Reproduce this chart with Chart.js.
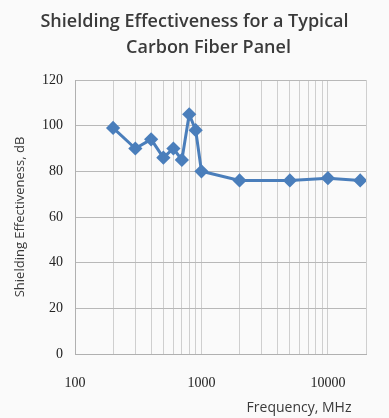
<!DOCTYPE html>
<html>
<head>
<meta charset="utf-8">
<script src="https://cdn.jsdelivr.net/npm/chart.js@4.4.1/dist/chart.umd.min.js"></script>
<style>
  html, body { margin: 0; padding: 0; background: #fafafa; }
  #wrap { width: 389px; height: 418px; }
</style>
</head>
<body>
<div id="wrap"><canvas id="myChart"></canvas></div>
<script>
const frequencies = [200, 300, 400, 500, 600, 700, 800, 900, 1000, 2000, 5000, 10000, 18000];
const effectiveness = [99, 90, 94, 86, 90, 85, 105, 98, 80, 76, 76, 77, 76];
const freqGrid = [100, 200, 300, 400, 500, 600, 700, 800, 900,
                  1000, 2000, 3000, 4000, 5000, 6000, 7000, 8000, 9000,
                  10000, 20000];
const freqLabels = [100, 1000, 10000];
const dbTicks = [0, 20, 40, 60, 80, 100, 120];
const titleLines = ['Shielding Effectiveness for a Typical', 'Carbon Fiber Panel'];

const blue = '#4a7ebb';
const tickFont = {family: 'Liberation Serif', size: 14};

// the picture's title is centred on the whole image, second line a bit to the right
const pictureTitle = {
    id: 'pictureTitle',
    afterDraw(chart) {
        const ctx = chart.ctx;
        ctx.save();
        ctx.font = '600 18px "Open Sans"';
        ctx.fillStyle = '#3a3a3a';
        ctx.textAlign = 'center';
        ctx.textBaseline = 'alphabetic';
        ctx.fillText(titleLines[0], chart.width / 2, 27);
        ctx.fillText(titleLines[1], chart.width / 2 + 14, 53);
        ctx.restore();
    }
};

const myChart = new Chart(
    document.getElementById('myChart'),
    {
        type: 'line',
        data: {
            datasets: [
                {
                    label: 'Shielding Effectiveness',
                    data: frequencies.map((f, i) => ({x: f, y: effectiveness[i]})),
                    borderColor: blue,
                    backgroundColor: blue,
                    borderWidth: 3,
                    pointStyle: 'rectRot',
                    pointRadius: 5,
                    tension: 0
                }
            ]
        },
        options: {
            responsive: true,
            maintainAspectRatio: false,
            animation: false,
            layout: {
                padding: {left: 12, right: 23, top: 80, bottom: 2}
            },
            plugins: {
                legend: {display: false},
                tooltip: {enabled: false},
                title: {display: false}
            },
            scales: {
                x: {
                    type: 'logarithmic',
                    min: 100,
                    max: 20000,
                    afterBuildTicks: (scale) => {
                        scale.ticks = freqGrid.map(v => ({value: v}));
                    },
                    afterFit: (scale) => {
                        scale.height = 62;
                    },
                    ticks: {
                        autoSkip: false,
                        maxRotation: 0,
                        padding: 21,
                        color: '#222',
                        font: tickFont,
                        callback: (value) => freqLabels.includes(value) ? String(value) : ''
                    },
                    grid: {color: '#cfcfcf', drawTicks: false},
                    border: {color: '#b0b0b0'},
                    title: {
                        display: true,
                        text: 'Frequency, MHz    ',
                        align: 'end',
                        color: '#3a3a3a',
                        font: {family: 'Open Sans', size: 14},
                        padding: {top: 0, bottom: 0}
                    }
                },
                y: {
                    min: 0,
                    max: 120,
                    afterBuildTicks: (scale) => {
                        scale.ticks = dbTicks.map(v => ({value: v}));
                    },
                    afterFit: (scale) => {
                        scale.width = 63;
                    },
                    ticks: {
                        padding: 12,
                        color: '#222',
                        font: tickFont
                    },
                    grid: {color: '#b8b8b8', drawTicks: false},
                    border: {color: '#b0b0b0'},
                    title: {
                        display: true,
                        text: 'Shielding Effectiveness, dB',
                        color: '#3a3a3a',
                        font: {family: 'Open Sans', size: 13},
                        padding: {top: 0, bottom: 4}
                    }
                }
            }
        },
        plugins: [pictureTitle]
    }
);
</script>
</body>
</html>
